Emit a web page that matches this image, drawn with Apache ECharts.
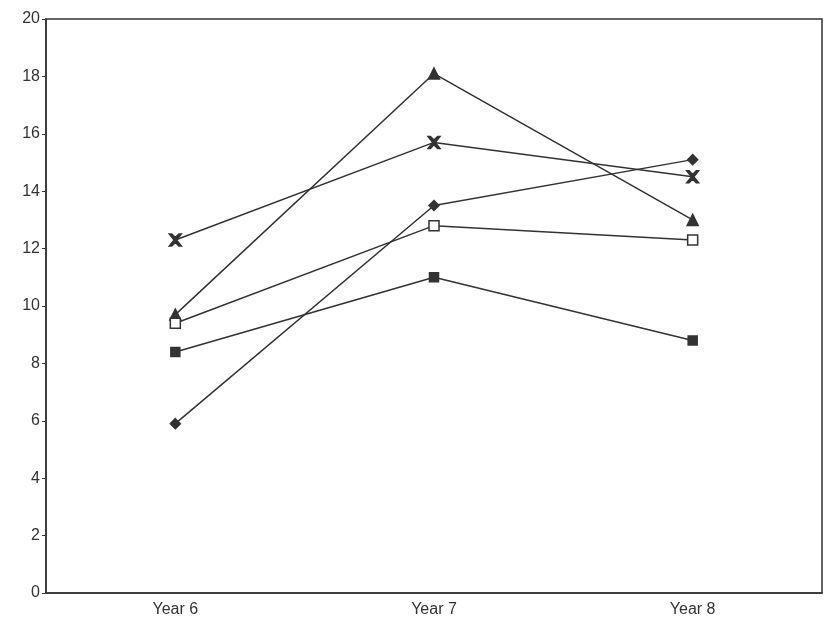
<!DOCTYPE html>
<html>
<head>
<meta charset="utf-8">
<script src="https://cdn.jsdelivr.net/npm/echarts@6/dist/echarts.min.js"></script>
<style>html,body{margin:0;padding:0;background:#fff}#c{width:825px;height:635px}</style>
</head>
<body>
<div id="c"></div>
<script>
const categories = ['Year 6', 'Year 7', 'Year 8'];
const yTicks = { min: 0, max: 20, interval: 2 };
const seriesDiamond = [5.9, 13.5, 15.1];
const seriesSquare = [8.4, 11.0, 8.8];
const seriesTriangle = [9.7, 18.1, 13.0];
const seriesCross = [12.3, 15.7, 14.5];
const seriesOpenSquare = [9.4, 12.8, 12.3];

const crossPath = 'path://M0,0 L2,0 L5,3 L8,0 L10,0 L6,5 L10,10 L8,10 L5,7 L2,10 L0,10 L4,5 Z';
const lineColor = '#333';
function mk(name, data, symbol, size) {
  return {
    name, type: 'line', data, symbol, symbolSize: size,
    lineStyle: { color: lineColor, width: 1.5 },
    itemStyle: { color: lineColor, borderColor: lineColor, borderWidth: 1.5 },
    emphasis: { disabled: true }, animation: false
  };
}
const chart = echarts.init(document.getElementById('c'));
chart.setOption({
  animation: false,
  grid: { left: 46, right: 3, top: 19, bottom: 42, show: true, borderColor: '#333', borderWidth: 1.5, backgroundColor: '#fff' },
  xAxis: {
    type: 'category', data: categories, boundaryGap: true,
    axisLine: { lineStyle: { color: '#333', width: 1.5 } },
    axisTick: { alignWithLabel: true, length: 5, lineStyle: { color: '#333' } },
    axisLabel: { color: '#333', fontFamily: 'Liberation Sans', fontSize: 16, margin: 9 },
    splitLine: { show: false }
  },
  yAxis: {
    type: 'value', min: yTicks.min, max: yTicks.max, interval: yTicks.interval,
    axisLine: { show: true, lineStyle: { color: '#333', width: 1.5 } },
    axisTick: { show: true, length: 4, lineStyle: { color: '#333' } },
    axisLabel: { color: '#333', fontFamily: 'Liberation Sans', fontSize: 16, margin: 6 },
    splitLine: { show: false }
  },
  series: [
    mk('A', seriesDiamond, 'diamond', 10),
    mk('B', seriesSquare, 'rect', 9),
    mk('C', seriesTriangle, 'triangle', 11),
    mk('D', seriesCross, crossPath, 12),
    Object.assign(mk('E', seriesOpenSquare, 'rect', 10), { itemStyle: { color: '#fff', borderColor: lineColor, borderWidth: 1.5 } })
  ]
});
</script>
</body>
</html>
